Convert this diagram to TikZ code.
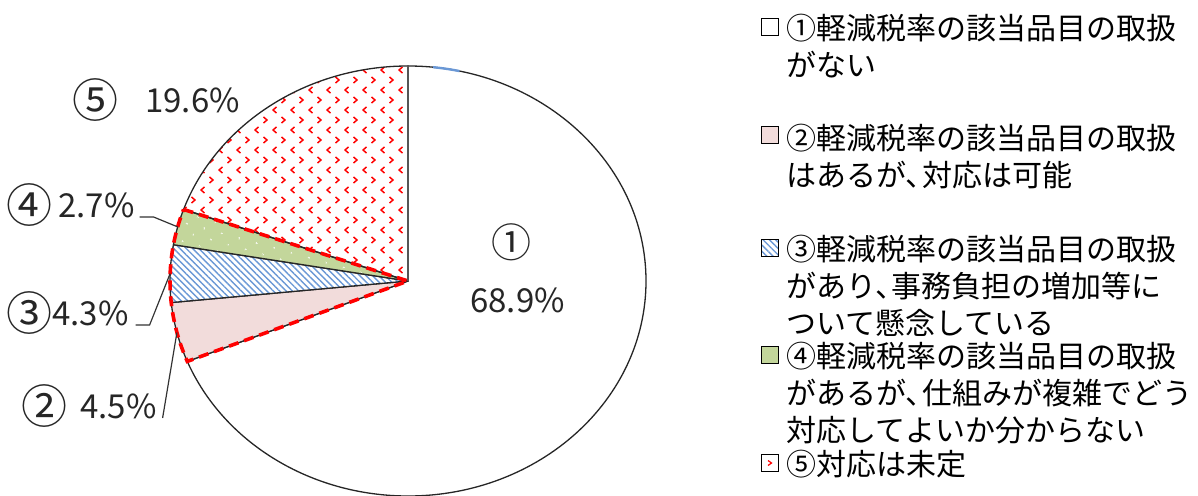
\documentclass[tikz,border=0pt]{standalone}
\usepackage{fontspec}
\setmainfont{Noto Sans CJK JP}
\usetikzlibrary{calc,patterns.meta}

\definecolor{piepink}{HTML}{F2DCDB}
\definecolor{piegreen}{HTML}{C3D69B}
\definecolor{hatchblue}{HTML}{6A98D6}
\definecolor{edgegray}{HTML}{555555}

% big circled number, sat on the line of the figures
\newcommand{\cnum}[1]{\raisebox{-5pt}{\fontsize{46}{46}\selectfont #1}}
% narrow comma
\newcommand{\tten}{、\hspace{-0.45em}}

% red < > marks of the undecided slice
\tikzdeclarepattern{
  name=chevrons,
  type=uncolored,
  bounding box={(-1pt,-1pt) and (19pt,21pt)},
  tile size={(18pt,20pt)},
  code={
    \draw[line width=1.5pt] (6.5pt,2pt) -- (3pt,5pt) -- (6.5pt,8pt);
    \draw[line width=1.5pt] (11.5pt,12pt) -- (15pt,15pt) -- (11.5pt,18pt);
  }
}

\begin{document}
\begin{tikzpicture}
        [x=1pt, y=1pt,
        slice/.style={draw=black!85, line width=1.3pt, line join=round},
        hatch/.style={pattern={Lines[angle=-45,distance=4.5pt,line width=1.4pt]}, pattern color=hatchblue},
        dots/.style={pattern={Dots[angle=30,distance=13pt,radius=0.9pt]}, pattern color=white},
        marks/.style={pattern=chevrons, pattern color=red},
        outline/.style={red, line width=3.6pt, dash pattern=on 10pt off 6pt},
        leader/.style={draw=black!80, line width=1.2pt},
        pct/.style={font=\fontsize{33}{40}\selectfont, text=black!85, inner sep=0pt, anchor=base west},
        keybox/.style={draw=black, line width=1.2pt, minimum size=17.5pt, inner sep=0pt},
        keytext/.style={font=\fontsize{30}{37}\selectfont, align=left, inner sep=0pt, anchor=base west}]

        \useasboundingbox (0,0) rectangle (1198,-495);

        \coordinate (C) at (408,-281);

        % slices, clockwise from the top
        \filldraw[slice, fill=white] (C) -- ++(90:238 and 215)
            arc[start angle=90, end angle=-158.04, x radius=238, y radius=215] -- cycle;
        \filldraw[slice, fill=piepink] (C) -- ++(-158.04:238 and 215)
            arc[start angle=-158.04, end angle=-174.24, x radius=238, y radius=215] -- cycle;
        \fill[white] (C) -- ++(-174.24:238 and 215)
            arc[start angle=-174.24, end angle=-189.72, x radius=238, y radius=215] -- cycle;
        \filldraw[slice, hatch] (C) -- ++(-174.24:238 and 215)
            arc[start angle=-174.24, end angle=-189.72, x radius=238, y radius=215] -- cycle;
        \fill[piegreen] (C) -- ++(-189.72:238 and 215)
            arc[start angle=-189.72, end angle=-199.44, x radius=238, y radius=215] -- cycle;
        \filldraw[slice, dots] (C) -- ++(-189.72:238 and 215)
            arc[start angle=-189.72, end angle=-199.44, x radius=238, y radius=215] -- cycle;
        \filldraw[slice, marks] (C) -- ++(-199.44:238 and 215)
            arc[start angle=-199.44, end angle=-270, x radius=238, y radius=215] -- cycle;
        \draw[edgegray, line width=2.6pt] (C) -- ++(0,215);
        \draw[hatchblue, line width=2.4pt] ($(C)+(84:238 and 215)$)
            arc[start angle=84, end angle=77.5, x radius=238, y radius=215];

        % dashed red border round slices 2 to 4
        \draw[outline] ($(C)+(-199.44:238 and 215)$) -- (C) -- ++(-158.04:238 and 215)
            arc[start angle=-158.04, end angle=-199.44, x radius=238, y radius=215];

        % points where the leaders meet the slices
        \coordinate (m2) at ($(C)+(-166.14:238 and 215)$);
        \coordinate (m3) at ($(C)+(-181.98:238 and 215)$);
        \coordinate (m4) at ($(C)+(-194.58:238 and 215)$);

        % slice labels
        \node[font=\fontsize{40}{40}\selectfont, text=black!85] (c1) at (511,-242) {①};
        \node[pct] (p1) at (470,-312) {68.9\%};
        \node[pct] (p5) at (72,-112) {\cnum{⑤}\hspace{27pt}19.6\%};
        \node[pct] (p4) at (6,-217) {\cnum{④}\hspace{6pt}2.7\%};
        \node[pct] (p3) at (6,-325) {\cnum{③}\hspace{0pt}4.3\%};
        \node[pct] (p2) at (21,-418) {\cnum{②}\hspace{13pt}4.5\%};

        \draw[leader] ([xshift=5pt]p4.base east) -- ++(14,0) -- (m4);
        \draw[leader] ([xshift=7pt]p3.base east) -- ++(14,0) -- (m3);
        \draw[leader] ([xshift=6pt]p2.base east) -- (m2);

        % legend
        \node[keybox, fill=white] (k1) at (770,-27) {};
        \node[keybox, fill=piepink] (k2) at (770,-135) {};
        \node[keybox, hatch] (k3) at (770,-248) {};
        \node[keybox, fill=piegreen] (k4) at (770,-355) {};
        \node[keybox, fill=white] (k5) at (770,-463) {};
        \draw[red, line width=1.2pt] ([xshift=-2pt,yshift=2.5pt]k5.center) -- ++(3.5,-2.5) -- ++(-3.5,-2.5);

        % texts sit on the base line of their last row
        \node[keytext] (t1) at (786,-77) {①軽減税率の該当品目の取扱\\がない};
        \node[keytext] (t2) at (786,-186) {②軽減税率の該当品目の取扱\\はあるが\tten 対応は可能};
        \node[keytext] (t3) at (786,-334) {③軽減税率の該当品目の取扱\\があり\tten 事務負担の増加等に\\ついて懸念している};
        \node[keytext] (t4) at (786,-441) {④軽減税率の該当品目の取扱\\があるが\tten 仕組みが複雑でどう\\対応してよいか分からない};
        \node[keytext] (t5) at (786,-475) {⑤対応は未定};

    \end{tikzpicture}
\end{document}
